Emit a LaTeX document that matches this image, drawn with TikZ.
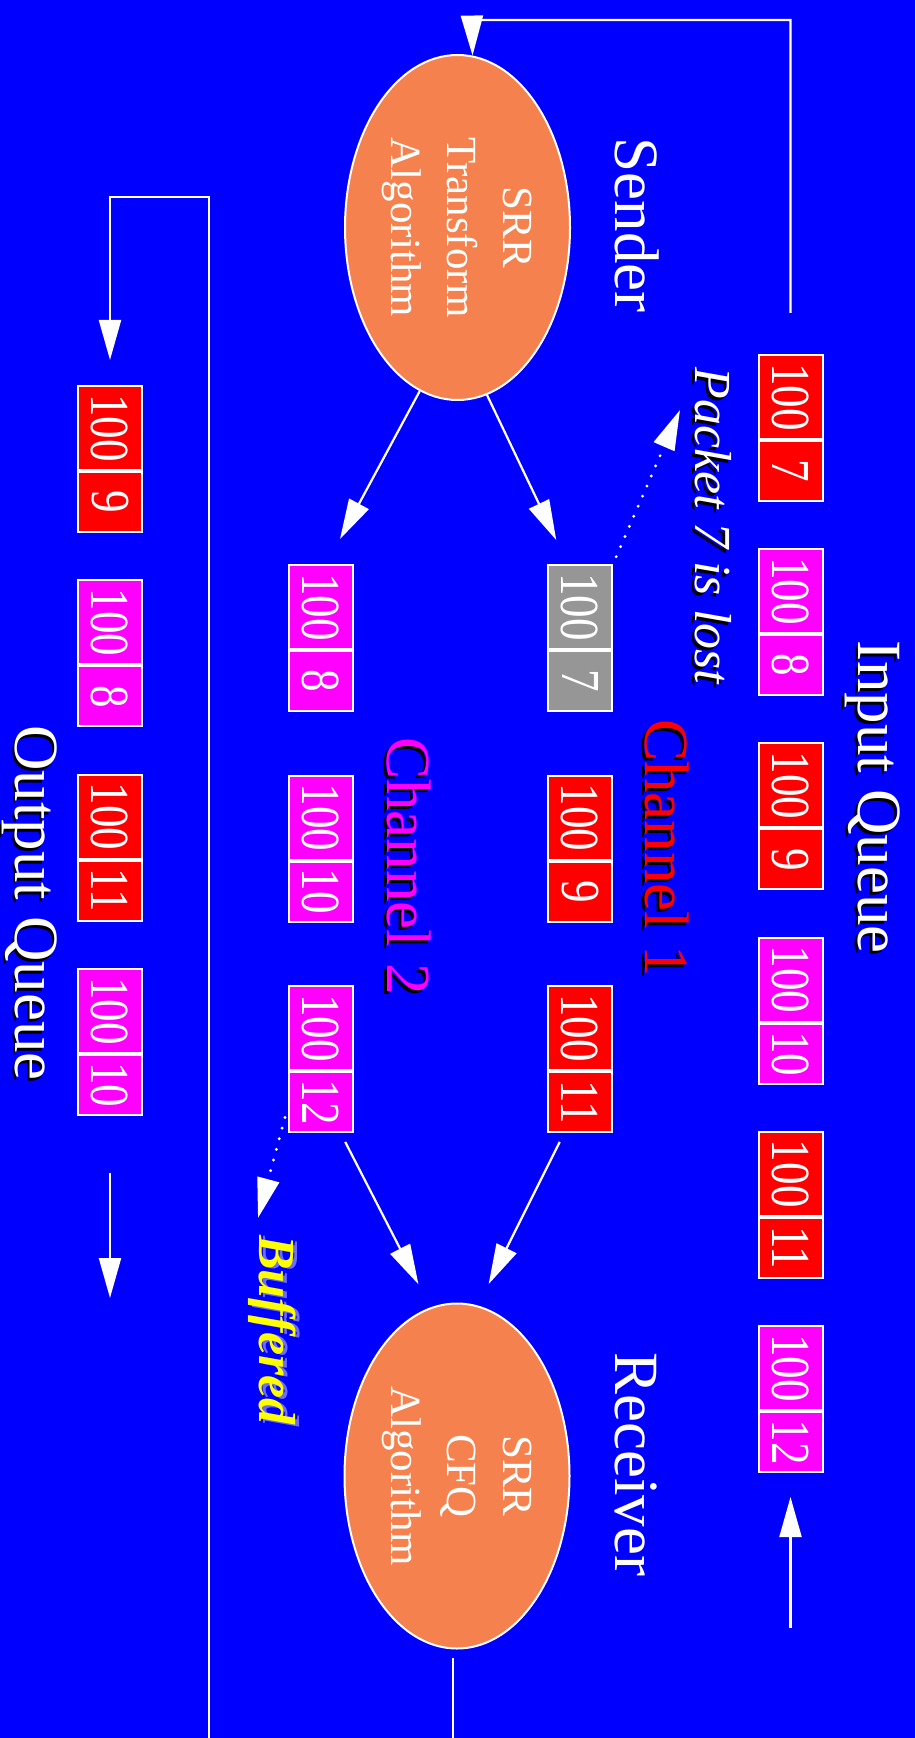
\documentclass[tikz,border=0pt]{standalone}
\usepackage{fontspec}
\setmainfont{Liberation Serif}
\usetikzlibrary{positioning,shapes.geometric,arrows.meta}

\definecolor{slideblue}{RGB}{0,0,255}
\definecolor{algoorange}{RGB}{245,130,78}
\definecolor{pktred}{RGB}{255,0,0}
\definecolor{pktmag}{RGB}{255,0,255}
\definecolor{pktgray}{RGB}{150,150,150}
\definecolor{bufyellow}{RGB}{255,255,0}
\definecolor{bufshadow}{RGB}{110,110,245}

% narrow digits in the packet cells
\newcommand\pk[1]{\scalebox{0.82}[1]{#1}}
% text with a drop shadow: dx, dy, shadow colour, text colour, text
\newcommand\shadowed[5]{\makebox[0pt][l]{\hspace*{#1}\raisebox{#2}{\textcolor{#3}{#5}}}\textcolor{#4}{#5}}

\tikzset{
  head/.style={font=\fontsize{31.5}{36}\selectfont, inner sep=0pt, anchor=base},
  note/.style={font=\fontsize{26}{30}\selectfont\itshape, inner sep=0pt, anchor=base},
  algo/.style={ellipse, draw=white, line width=1pt, fill=algoorange,
    minimum width=172.5pt, minimum height=112.5pt, inner sep=0pt},
  algotext/.style={text=white, align=center, font=\fontsize{21.5}{28}\selectfont},
  cell/.style={draw=white, line width=1pt, text=white, minimum width=42pt,
    minimum height=32pt, inner sep=0pt, font=\fontsize{27.5}{30}\selectfont},
  numcell/.style={cell, minimum width=30pt},
  wire/.style={draw=white, line width=1.1pt},
  arr/.style={wire, -{Triangle[length=20pt,width=11pt]}},
  dotarr/.style={arr, line width=1.6pt, line cap=round, dash pattern=on 0pt off 5.5pt},
}

\begin{document}
\begin{tikzpicture}[x=0.5pt, y=0.5pt]
  \begin{scope}[rotate=-90, transform shape]
    % slide
    \useasboundingbox (0,0) rectangle (1738,915);
    \fill[slideblue] (0,0) rectangle (1738,915);

    % sender and receiver
    \node[algo, label={[algotext]center:SRR\\Transform\\Algorithm}] (sender) at (227.5,457.5) {};
    \node[algo, label={[algotext]center:SRR\\CFQ\\Algorithm}] (receiver) at (1476,457) {};

    % labels
    \node[head] (inq) at (797,858) {\shadowed{1.5pt}{-1.5pt}{black}{white}{Input Queue}};
    \node[head] (outq) at (903,16) {\shadowed{1.5pt}{-1.5pt}{black}{white}{Output Queue}};
    \node[head, text=white] (sendlbl) at (225,615) {Sender};
    \node[head, text=white] (recvlbl) at (1464,615) {Receiver};
    \node[head] (ch1lbl) at (848,645) {\shadowed{1.5pt}{-1.5pt}{black}{pktred}{Channel 1}};
    \node[head] (ch2lbl) at (866,387) {\shadowed{1.5pt}{-1.5pt}{black}{pktmag}{Channel 2}};
    \node[note] (lost) at (526,695) {\shadowed{1.5pt}{-1.5pt}{black}{white}{Packet 7 is lost}};
    \node[note, font=\fontsize{26}{30}\selectfont\bfseries\itshape] (buf) at (1330,259)
      {\shadowed{0.7pt}{2pt}{bufshadow}{bufyellow}{Buffered}};

    % input queue
    \foreach \n/\c [count=\i from 0] in {7/pktred,8/pktmag,9/pktred,10/pktmag,11/pktred,12/pktmag}{
      \node[cell, fill=\c, anchor=west] (in\n) at (354+194.2*\i,790.5) {\pk{100}};
      \node[numcell, fill=\c, right=0pt of in\n] (in\n-n) {\pk{\n}};
    }
    % channel 1
    \foreach \n/\c [count=\i from 0] in {7/pktgray,9/pktred,11/pktred}{
      \node[cell, fill=\c, anchor=west] (ca\n) at (564+210.5*\i,580) {\pk{100}};
      \node[numcell, fill=\c, right=0pt of ca\n] (ca\n-n) {\pk{\n}};
    }
    % channel 2
    \foreach \n [count=\i from 0] in {8,10,12}{
      \node[cell, fill=pktmag, anchor=west] (cb\n) at (564+210.5*\i,320.5) {\pk{100}};
      \node[numcell, fill=pktmag, right=0pt of cb\n] (cb\n-n) {\pk{\n}};
    }
    % output queue
    \foreach \n/\c [count=\i from 0] in {9/pktred,8/pktmag,11/pktred,10/pktmag}{
      \node[cell, fill=\c, anchor=west] (out\n) at (385+194.3*\i,110) {\pk{100}};
      \node[numcell, fill=\c, right=0pt of out\n] (out\n-n) {\pk{\n}};
    }

    % sender splits over the channels
    \draw[arr, shorten >=13.3pt] (sender.10) -- (ca7.196);
    \draw[arr, shorten >=14.2pt] (sender.-13) -- (cb8.172);
    % receiver merges them
    \draw[arr, shorten <=5pt, shorten >=12pt] (ca11-n.-27) -- (receiver.173);
    \draw[arr, shorten <=5pt, shorten >=13pt] (cb12-n.33) -- (receiver.189);

    % queue head goes to the sender
    \coordinate (loopcorner) at (20,472);
    \draw[arr, shorten <=20.5pt] (in7.west) -| (loopcorner) -- (sender.175);
    % new packets at the tail
    \coordinate (arrive) at (1628,790.5);
    \draw[arr, shorten >=12pt] (arrive) -- (in12-n.east);

    % receiver out to the output queue
    \coordinate (rxout) at (1738,453);
    \draw[wire, shorten <=4pt] (receiver.east |- rxout) -- (rxout);
    \coordinate (outfeed) at (1738,209);
    \coordinate (outturn) at (197,112);
    \draw[arr, shorten >=12.5pt] (outfeed) -| (outturn) |- (out9.west);
    \coordinate (leave) at (1298,110);
    \draw[arr, shorten <=28.5pt] (out10-n.east) -- (leave);

    % lost and buffered packets
    \coordinate (losttip) at (410,680);
    \draw[dotarr, shorten <=4pt] (ca7.north west) -- (losttip);
    \coordinate (buftip) at (1218,258);
    \draw[dotarr, shorten <=5pt] (cb12-n.-80) -- (buftip);
  \end{scope}
\end{tikzpicture}
\end{document}
